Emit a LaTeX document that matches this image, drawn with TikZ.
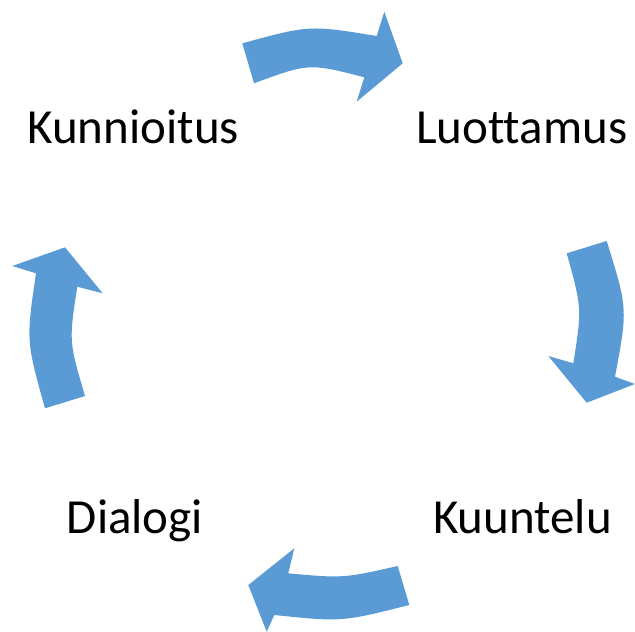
\documentclass[tikz,border=0pt]{standalone}
\usepackage{fontspec}
\setmainfont{Carlito}[Ligatures={NoCommon}]
\definecolor{arrowblue}{HTML}{5B9BD5}
\tikzset{
  lbl/.style={font=\fontsize{49pt}{52pt}\selectfont, text=black, inner sep=0pt, anchor=base},
  blockarrow/.style={fill=arrowblue, draw=none}
}
\begin{document}
\begin{tikzpicture}[x=1pt,y=-1pt]
\useasboundingbox (0,0) rectangle (635,632);
% texts
\node[lbl] (kunnioitus) at (133.3,143.3) {Kunnioitus};
\node[lbl] (luottamus) at (521.7,143.3) {Luottamus};
\node[lbl] (kuuntelu) at (522.5,533.3) {Kuuntelu};
\node[lbl] (dialogi) at (135,533.3) {Dialogi};
% top arrow (to the right)
\fill[blockarrow] (242.3,43.3) .. controls (309.5,25) .. (376.7,36)
  -- (384.3,11.7) -- (402.7,63.3) -- (356.7,101.7) -- (364.3,77.3)
  .. controls (309,63.1) .. (254,83.3) -- cycle;
% right arrow (down)
\fill[blockarrow] (606.7,241) .. controls (627.8,308.9) .. (615,376.7)
  -- (635,384) -- (586.7,402.7) -- (548.3,356) -- (573.3,363.3)
  .. controls (582,308.3) .. (566.7,253.3) -- cycle;
% bottom arrow (to the left)
\fill[blockarrow] (397.7,566) .. controls (343,578.3) .. (288.3,573.3)
  -- (294.3,548.3) -- (248.3,585) -- (266.7,631.7) -- (274.3,615)
  .. controls (341.8,622) .. (409.3,605) -- cycle;
% left arrow (up)
\fill[blockarrow] (45,408.3) .. controls (26.1,340.8) .. (36,273.3)
  -- (12.3,266) -- (65,247.3) -- (102.7,293.3) -- (77.3,286.7)
  .. controls (68.85,341.3) .. (85,396) -- cycle;
\end{tikzpicture}
\end{document}
